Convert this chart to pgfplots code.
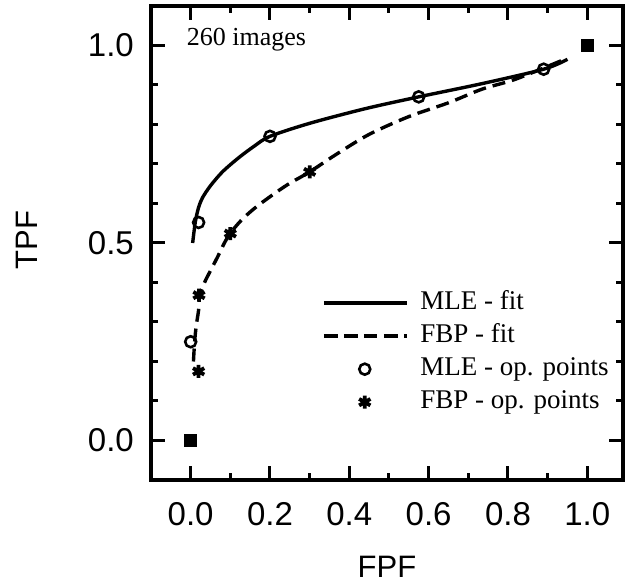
\documentclass[border=0pt]{standalone}
\usepackage{fontspec}
\setmainfont{Liberation Serif}
\newfontfamily\helv{Liberation Sans}
\usepackage{pgfplots}
\pgfplotsset{compat=1.18}

\begin{document}
\begin{tikzpicture}
\useasboundingbox (0,0) rectangle (627pt,584pt);
\begin{axis}[
    at={(151pt,104pt)}, anchor=south west,
    scale only axis,
    width=472pt, height=474pt,
    xmin=-0.1, xmax=1.09,
    ymin=-0.1, ymax=1.1,
    xtick={0,0.2,0.4,0.6,0.8,1.0},
    xticklabels={0.0,0.2,0.4,0.6,0.8,1.0},
    ytick={0,0.5,1.0},
    yticklabels={0.0,0.5,1.0},
    minor x tick num=1,
    minor y tick num=4,
    tick align=inside,
    major tick length=14pt,
    minor tick length=7pt,
    every tick/.style={line width=3pt, black},
    axis line style={line width=3.2pt},
    tick label style={font=\helv\fontsize{33}{33}\selectfont, inner sep=0pt},
    xticklabel style={yshift=-22pt},
    yticklabel style={xshift=-17pt},
    xlabel={FPF},
    ylabel={TPF},
    label style={font=\helv\fontsize{31}{31}\selectfont},
    xlabel style={at={(axis description cs:0.5,-0.184)}, anchor=center},
    ylabel style={at={(axis description cs:-0.263,0.506)}, anchor=center},
    legend cell align=left,
    legend style={draw=none, fill=none, inner sep=0pt,
        at={(axis description cs:0.362,0.403)}, anchor=north west,
        font=\fontsize{27}{27}\selectfont, row sep=5pt, column sep=11pt,
        nodes={inner sep=1pt, text height=19pt, text depth=7pt}},
    legend image code/.code={\draw[mark repeat=2,mark phase=2,#1] plot coordinates {(0pt,0pt) (41pt,0pt) (83pt,0pt)};},
    clip=false
]
% MLE fit
\addplot[black, line width=3.4pt, smooth] coordinates {
(0.005,0.50) (0.012,0.555) (0.02,0.59) (0.03,0.615) (0.05,0.645)
(0.08,0.68) (0.12,0.715) (0.16,0.745) (0.2,0.77) (0.30,0.803)
(0.44,0.84) (0.575,0.870) (0.737,0.904) (0.89,0.94) (0.95,0.965)};
% FBP fit
\addplot[black, line width=3.4pt, dash pattern=on 13pt off 7pt, smooth] coordinates {
(0.007,0.20) (0.010,0.25) (0.014,0.29) (0.02,0.33) (0.023,0.367)
(0.035,0.40) (0.05,0.43) (0.068,0.465) (0.085,0.50) (0.1,0.525)
(0.13,0.56) (0.17,0.595) (0.24,0.645) (0.30,0.68) (0.368,0.725)
(0.45,0.775) (0.55,0.82) (0.65,0.855) (0.736,0.89) (0.82,0.915)
(0.95,0.968)};
% MLE op points
\addplot[only marks, mark=o, mark size=5.5pt, line width=2.6pt, black] coordinates {
(0.0,0.25) (0.02,0.552) (0.2,0.77) (0.575,0.87) (0.89,0.94)};
% FBP op points
\addplot[only marks, mark=asterisk, mark size=6.5pt, line width=3.8pt, black] coordinates {
(0.02,0.175) (0.021,0.368) (0.1,0.524) (0.30,0.68)};
% shared end points
\addplot[only marks, mark=square*, mark size=6pt, black, forget plot] coordinates {
(0,0) (1,1)};
\legend{MLE - fit, FBP - fit, MLE - op. points, FBP - op. points}
\node[anchor=base west, font=\fontsize{26}{26}\selectfont, inner sep=0pt] at (axis cs:-0.01,1.0) {260 images};
\end{axis}
\end{tikzpicture}
\end{document}
